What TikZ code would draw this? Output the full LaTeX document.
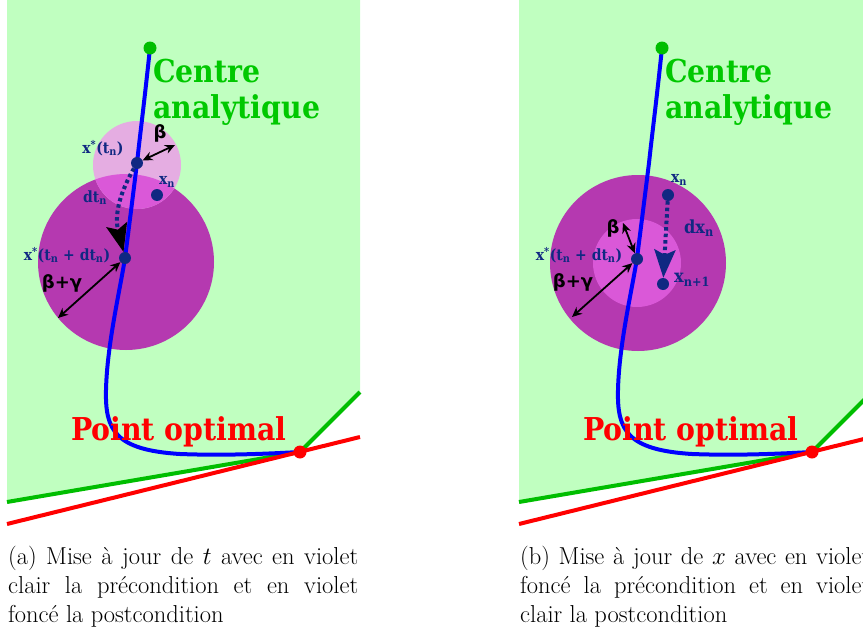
\documentclass[tikz,border=0pt]{standalone}
\usepackage{fontspec}
\usetikzlibrary{arrows.meta}
\newfontfamily\slab{DejaVu Serif Condensed}
\newfontfamily\gsans{DejaVu Sans}
\definecolor{bggreen}{RGB}{192,255,192}
\definecolor{lgreen}{RGB}{0,190,0}
\definecolor{txtgreen}{RGB}{0,200,0}
\definecolor{darkpurple}{RGB}{181,57,176}
\definecolor{palepink}{RGB}{229,173,226}
\definecolor{magpink}{RGB}{218,88,216}
\definecolor{navy}{RGB}{16,40,130}
\tikzset{
  navydot/.style={circle, fill=navy, inner sep=0pt, minimum size=12pt},
  gdot/.style={circle, fill=lgreen, inner sep=0pt, minimum size=13pt},
  rdot/.style={circle, fill=red, inner sep=0pt, minimum size=13pt},
  bigtxt/.style={font=\slab\bfseries\fontsize{31.5}{36}\selectfont, inner sep=0pt, anchor=base west},
  smalltxt/.style={font=\slab\bfseries\fontsize{15.5}{17}\selectfont, text=navy, inner sep=0pt},
  midtxt/.style={font=\slab\bfseries\fontsize{18}{20}\selectfont, text=navy, inner sep=0pt},
  greek/.style={font=\gsans\bfseries\fontsize{18}{20}\selectfont, inner sep=0pt},
  dbl/.style={{Stealth[length=10pt,width=9pt]}-{Stealth[length=10pt,width=9pt]}, line width=1.8pt},
  dotarrow/.style={navy, line width=4pt, dash pattern=on 3.5pt off 3pt, -{Stealth[length=28pt,width=21pt,inset=5pt]}},
  blacktip/.style={-{Stealth[length=28pt,width=21pt,inset=5pt,color=black]}},
  captxt/.style={font=\fontsize{24.5}{29.4}\selectfont, text width=350pt, align=justify, inner sep=0pt, anchor=base west},
  bluepath/.style={blue, line width=4pt},
  greenline/.style={lgreen, line width=4pt},
  redline/.style={red, line width=4pt}
}
\newcommand{\commonbase}{%
  \fill[bggreen] (7,0) -- (360,0) -- (360,392) -- (300,452) -- (7,502) -- cycle;
}
\newcommand{\commonlines}{%
  \draw[greenline] (7,502) -- (300,452) -- (360,392);
  \draw[bluepath] (150,48) .. controls (144,105) and (140,135) .. (137,163)
     .. controls (133,195) and (128,235) .. (125,258)
     .. controls (120,290) and (107,345) .. (106,390)
     .. controls (105,430) and (115,450) .. (180,454)
     .. controls (230,456) and (280,453) .. (300,452);
  \draw[redline] (7,524) -- (360,437);
}
\begin{document}
\begin{tikzpicture}[x=1pt,y=-1pt]
\useasboundingbox (0,0) rectangle (863,637);
\clip (0,0) rectangle (863,637);
% ---------------- panel (a)
\begin{scope}
  \commonbase
  \fill[darkpurple] (126,262) circle (88);
  \fill[palepink] (137,165) circle (44);
  \begin{scope}
    \clip (126,262) circle (88);
    \fill[magpink] (137,165) circle (44);
  \end{scope}
  \commonlines
  \node[gdot] (gA) at (150,48) {};
  \node[rdot] (rA) at (300,452) {};
  \node[navydot] (a1) at (137,163) {};
  \node[navydot] (a2) at (125,258) {};
  \node[navydot] (axn) at (157,195) {};
  \coordinate (abeta) at (175,145);
  \coordinate (abg) at (58,318);
  \draw[dotarrow, blacktip] (a1) .. controls +(-20,35) and +(-10,-40) .. (a2);
  \draw[dbl] (a1) -- (abeta);
  \draw[dbl] (a2) -- (abg);
  \node[bigtxt, text=txtgreen] (ca1) at (153,82) {Centre};
  \node[bigtxt, text=txtgreen] (ca2) at (153,118) {analytique};
  \node[bigtxt, text=red] (po) at (71,440) {Point optimal};
  \node[smalltxt] (la1) at (103,148) {x\textsuperscript{*}(t\textsubscript{n})};
  \node[smalltxt] (la2) at (167,182) {x\textsubscript{n}};
  \node[smalltxt] (la3) at (95,198) {dt\textsubscript{n}};
  \node[smalltxt] (la4) at (67,255) {x\textsuperscript{*}(t\textsubscript{n} + dt\textsubscript{n})};
  \node[greek] (lb) at (160,133) {β};
  \node[greek] (lbg) at (62,283) {β+γ};
  \node[captxt] (capa) at (8,564) {(a) Mise à jour de $t$ avec en violet\linebreak clair la précondition et en violet\linebreak foncé la postcondition};
\end{scope}
% ---------------- panel (b)
\begin{scope}[xshift=512pt]
  \commonbase
  \fill[darkpurple] (126,263) circle (88);
  \fill[magpink] (125,263) circle (44);
  \commonlines
  \node[gdot] (gB) at (150,48) {};
  \node[rdot] (rB) at (300,452) {};
  \node[navydot] (b1) at (125,259) {};
  \node[navydot] (bxn) at (156,195) {};
  \node[navydot] (bxn1) at (151,284) {};
  \coordinate (bbeta) at (111,223);
  \coordinate (bbg) at (60,317);
  \draw[dotarrow] (bxn) -- (bxn1);
  \draw[dbl] (b1) -- (bbeta);
  \draw[dbl] (b1) -- (bbg);
  \node[bigtxt, text=txtgreen] (cb1) at (153,82) {Centre};
  \node[bigtxt, text=txtgreen] (cb2) at (153,118) {analytique};
  \node[bigtxt, text=red] (pob) at (71,440) {Point optimal};
  \node[smalltxt] (lb1) at (167,180) {x\textsubscript{n}};
  \node[midtxt] (lb2) at (187,228) {dx\textsubscript{n}};
  \node[midtxt] (lb3) at (180,280) {x\textsubscript{n+1}};
  \node[smalltxt] (lb4) at (67,255) {x\textsuperscript{*}(t\textsubscript{n} + dt\textsubscript{n})};
  \node[greek] (lbb) at (101,228) {β};
  \node[greek] (lbbg) at (61,282) {β+γ};
  \node[captxt] (capb) at (8,564) {(b) Mise à jour de $x$ avec en violet\linebreak foncé la précondition et en violet\linebreak clair la postcondition};
\end{scope}
\end{tikzpicture}
\end{document}
